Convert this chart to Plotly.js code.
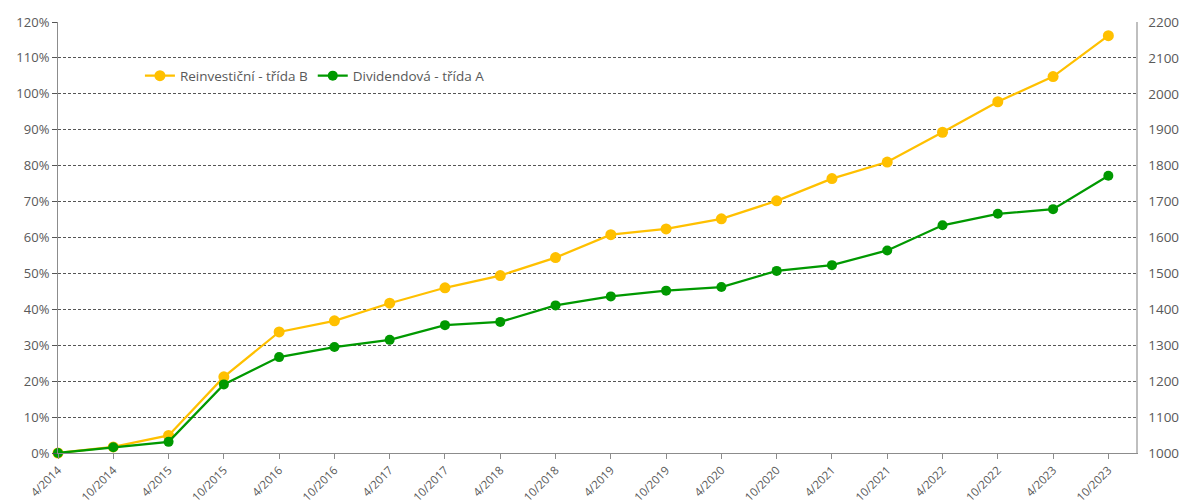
<!DOCTYPE html>
<html>
<head>
<meta charset="utf-8">
<script src="https://cdn.plot.ly/plotly-3.0.1.min.js"></script>
<style>html,body{margin:0;padding:0;background:#fff;}#chart{width:1184px;height:503px;}</style>
</head>
<body>
<div id="chart"></div>
<script>
const dates = ["4/2014","10/2014","4/2015","10/2015","4/2016","10/2016","4/2017","10/2017","4/2018","10/2018",
               "4/2019","10/2019","4/2020","10/2020","4/2021","10/2021","4/2022","10/2022","4/2023","10/2023"];
const reinvestB = [0, 1.7, 4.9, 21.2, 33.7, 36.8, 41.7, 46.0, 49.4, 54.4,
                   60.8, 62.4, 65.2, 70.2, 76.4, 81.0, 89.3, 97.8, 104.8, 116.2];
const dividendA = [0, 1.6, 3.1, 19.1, 26.7, 29.5, 31.5, 35.6, 36.5, 41.1,
                   43.6, 45.2, 46.2, 50.7, 52.3, 56.4, 63.4, 66.6, 67.9, 77.2];
const seriesNames = ["Reinvestiční - třída B", "Dividendová - třída A"];
const leftRange = [0, 120];
const rightRange = [1000, 2200];

const font = {family: "Open Sans, Noto Sans, sans-serif", size: 12, color: "#595959"};

const traces = [
  {x: dates, y: reinvestB, name: seriesNames[0], type: "scatter", mode: "lines+markers",
   line: {color: "#FFC000", width: 2.25}, marker: {color: "#FFC000", size: 11}, cliponaxis: false},
  {x: dates, y: dividendA, name: seriesNames[1], type: "scatter", mode: "lines+markers",
   line: {color: "#009900", width: 2.25}, marker: {color: "#009900", size: 10}, cliponaxis: false},
  {x: [dates[0]], y: [null], yaxis: "y2", type: "scatter", mode: "markers", showlegend: false, hoverinfo: "skip"}
];

const layout = {
  width: 1184, height: 503,
  margin: {l: 58, r: 48, t: 22, b: 50},
  paper_bgcolor: "#fff", plot_bgcolor: "#fff",
  font: font,
  showlegend: true,
  legend: {orientation: "h", x: 0.076, y: 0.875, xanchor: "left", yanchor: "middle",
           font: {family: font.family, size: 13.5, color: "#595959"}, bgcolor: "rgba(0,0,0,0)",
           itemwidth: 30, tracegroupgap: 0},
  xaxis: {type: "category", range: [0, 19.5], tickangle: -45, showgrid: false,
          showline: true, linecolor: "#8c8c8c", linewidth: 1,
          ticks: "outside", ticklen: 5, tickcolor: "#8c8c8c",
          tickfont: {family: font.family, size: 11.5, color: "#595959"}, zeroline: false, fixedrange: true},
  yaxis: {range: leftRange, dtick: 10, ticksuffix: "%", showgrid: true, gridcolor: "#555555",
          griddash: "3px,2px", gridwidth: 1, showline: true, linecolor: "#8c8c8c", linewidth: 1,
          ticks: "outside", ticklen: 5, tickcolor: "#555555", zeroline: false,
          tickfont: {family: font.family, size: 13, color: "#595959"}},
  yaxis2: {range: rightRange, dtick: 100, overlaying: "y", side: "right", showgrid: false,
           showline: true, linecolor: "#bfbfbf", linewidth: 1.5, ticks: "", ticklen: 0, zeroline: false,
           ticklabelstandoff: 8,
           tickfont: {family: font.family, size: 13.5, color: "#595959"}}
};

Plotly.newPlot("chart", traces, layout, {staticPlot: true, displayModeBar: false});
</script>
</body>
</html>
